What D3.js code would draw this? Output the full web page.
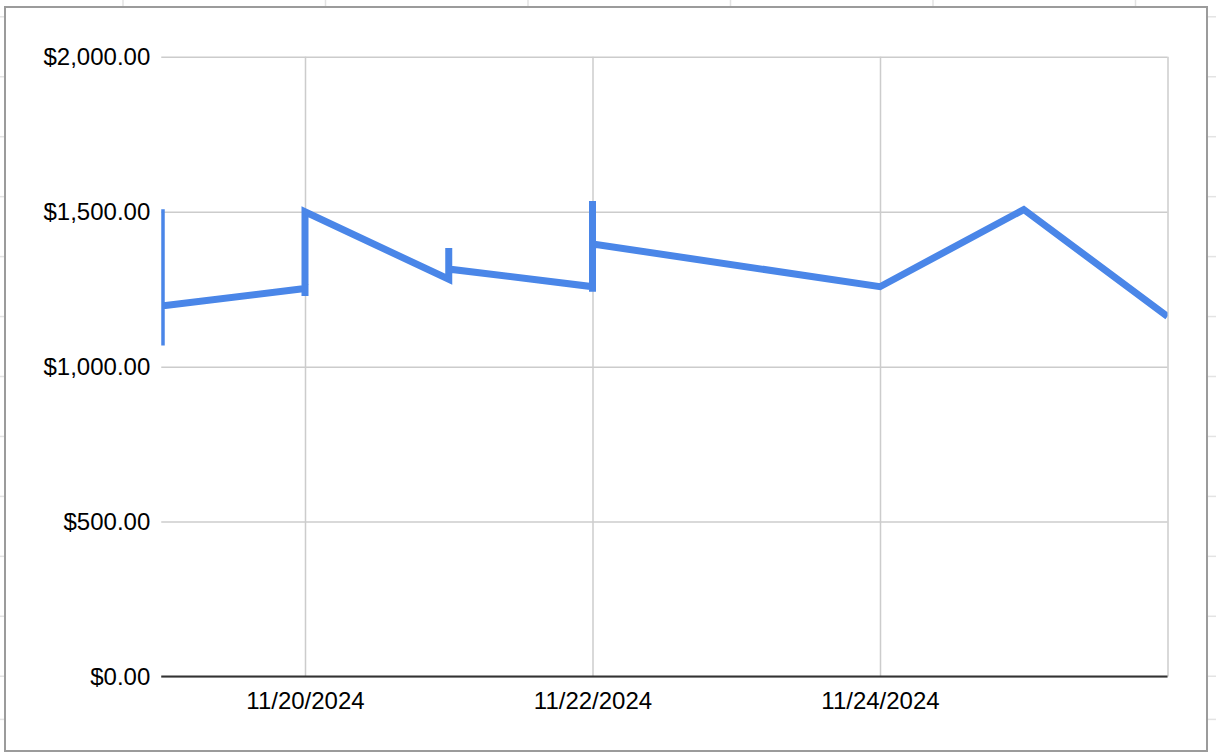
<!DOCTYPE html>
<html>
<head>
<meta charset="utf-8">
<script src="https://cdn.jsdelivr.net/npm/d3@7"></script>
<style>
  html, body { margin: 0; padding: 0; background: #ffffff; }
  svg { display: block; }
  text { font-family: Arial, "Liberation Sans", Helvetica, sans-serif; fill: #000; }
</style>
</head>
<body>
<svg id="chart" width="1216" height="752"></svg>
<script>
// ---- data ----
const dates = [
  "2024-11-19", "2024-11-19", "2024-11-19",
  "2024-11-20", "2024-11-20", "2024-11-20",
  "2024-11-21", "2024-11-21", "2024-11-21",
  "2024-11-22", "2024-11-22", "2024-11-22", "2024-11-22",
  "2024-11-24",
  "2024-11-25",
  "2024-11-26"
];
const values = [
  1508, 1068, 1196,
  1252, 1228, 1500,
  1282, 1383, 1315,
  1258, 1242, 1535, 1396,
  1258,
  1507,
  1162
];
const yTicks = [0, 500, 1000, 1500, 2000];
const xTickDates = ["2024-11-20", "2024-11-22", "2024-11-24"];
const xGridDates = ["2024-11-20", "2024-11-22", "2024-11-24", "2024-11-26"];
const xDomain = ["2024-11-19", "2024-11-26"];

// ---- drawing ----
const W = 1216, H = 752;
const svg = d3.select("#chart");
const parse = d3.timeParse("%Y-%m-%d");

// spreadsheet background lines (outside the chart frame)
const bg = svg.append("g").attr("stroke", "#e3e3e3").attr("stroke-width", 1.5);
d3.range(0, 6).forEach(i => {
  const x = 123 + i * 202.5;
  bg.append("line").attr("x1", x).attr("x2", x).attr("y1", 0).attr("y2", 7);
});
const rowYs = d3.range(0, 12).map(i => 16.8 + i * 59.95).concat([719.4]);
rowYs.forEach(y => {
  bg.append("line").attr("x1", 0).attr("x2", 5).attr("y1", y).attr("y2", y);
  bg.append("line").attr("x1", 1207).attr("x2", W).attr("y1", y).attr("y2", y);
});

// chart frame
svg.append("rect")
  .attr("x", 5).attr("y", 7).attr("width", 1202).attr("height", 744)
  .attr("fill", "#ffffff").attr("stroke", "#9b9b9b").attr("stroke-width", 2);

const plot = { left: 161.25, right: 1167.5, top: 56.8, bottom: 676.5 };

const x = d3.scaleTime()
  .domain(xDomain.map(parse))
  .range([plot.left, plot.right]);
const y = d3.scaleLinear()
  .domain([0, 2000])
  .range([plot.bottom, plot.top]);

const fmt = v => "$" + d3.format(",.2f")(v);

// horizontal gridlines
const yAxis = d3.axisLeft(y)
  .tickValues(yTicks)
  .tickSize(-(plot.right - plot.left))
  .tickPadding(11)
  .tickFormat(fmt);
const gy = svg.append("g")
  .attr("transform", `translate(${plot.left},0)`)
  .call(yAxis);
gy.select(".domain").remove();
gy.selectAll(".tick line").attr("stroke", "#cccccc").attr("stroke-width", 1.5);
gy.selectAll(".tick text")
  .attr("font-size", 24)
  .attr("fill", "#000")
  .attr("font-family", 'Arial, "Liberation Sans", sans-serif');

// vertical gridlines
const xGrid = d3.axisBottom(x)
  .tickValues(xGridDates.map(parse))
  .tickSize(-(plot.bottom - plot.top))
  .tickFormat("");
const gxg = svg.append("g")
  .attr("transform", `translate(0,${plot.bottom})`)
  .call(xGrid);
gxg.select(".domain").remove();
gxg.selectAll(".tick line").attr("stroke", "#cccccc").attr("stroke-width", 1.5);

// x labels
const xAxis = d3.axisBottom(x)
  .tickValues(xTickDates.map(parse))
  .tickSize(0)
  .tickPadding(15)
  .tickFormat(d3.timeFormat("%m/%d/%Y"));
const gx = svg.append("g")
  .attr("transform", `translate(0,${plot.bottom})`)
  .call(xAxis);
gx.select(".domain").remove();
gx.selectAll(".tick text")
  .attr("font-size", 24)
  .attr("fill", "#000")
  .attr("font-family", 'Arial, "Liberation Sans", sans-serif');

// baseline
svg.append("line")
  .attr("x1", plot.left).attr("x2", plot.right)
  .attr("y1", y(0)).attr("y2", y(0))
  .attr("stroke", "#333333").attr("stroke-width", 2);

// clip & line
svg.append("clipPath").attr("id", "plotclip")
  .append("rect")
  .attr("x", plot.left).attr("y", 0)
  .attr("width", plot.right - plot.left).attr("height", H);

const data = dates.map((d, i) => ({ date: parse(d), value: values[i] }));
const line = d3.line().x(d => x(d.date)).y(d => y(d.value));

svg.append("path")
  .datum(data)
  .attr("clip-path", "url(#plotclip)")
  .attr("fill", "none")
  .attr("stroke", "#4a86e8")
  .attr("stroke-width", 7)
  .attr("stroke-linejoin", "miter")
  .attr("d", line);
</script>
</body>
</html>
